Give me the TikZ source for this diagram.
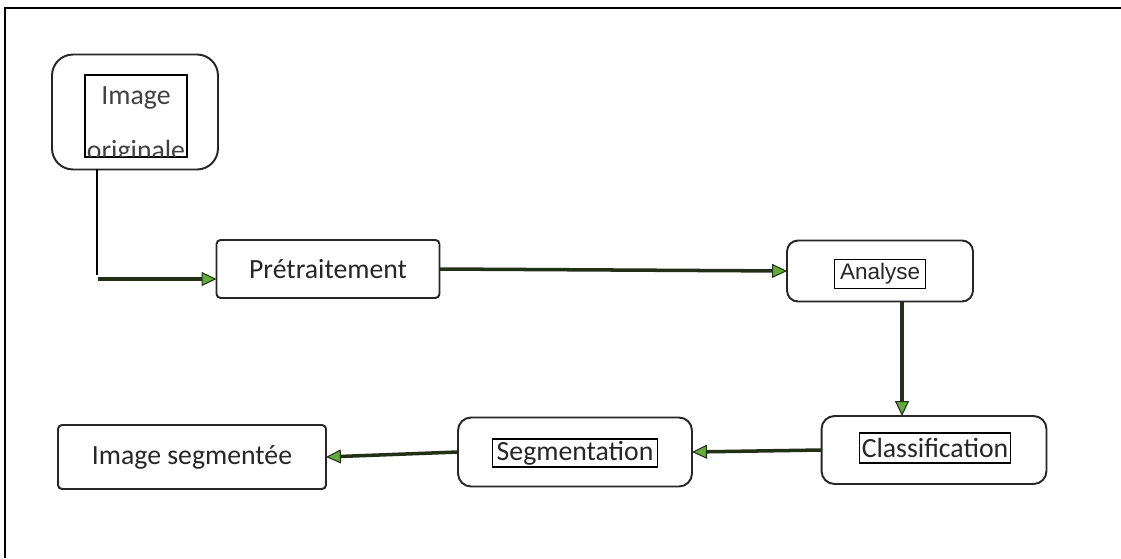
\documentclass[tikz,border=0pt]{standalone}
\usepackage{fontspec}
\setmainfont{Carlito}
\newfontfamily\arialfont{Liberation Sans}
\usetikzlibrary{arrows.meta,positioning}
\definecolor{arrline}{RGB}{34,48,24}
\definecolor{arrtip}{RGB}{98,172,58}
\begin{document}
\begin{tikzpicture}[x=0.02cm,y=-0.02cm,
box/.style = {draw=black!85, line width=1.1pt, fill=white, inner sep=0pt, outer sep=0pt},
tag/.style = {draw=black, line width=0.8pt, inner sep=0pt, outer sep=0pt},
flow/.style = {draw=arrline, line width=2pt,
        -{Triangle[length=0.3cm,width=0.28cm,fill=arrtip,line width=0.6pt]}},
every node/.append style = {text=black!85, font=\fontsize{15.8}{18}\selectfont}]

        \useasboundingbox (0,0) rectangle (1121,558);
        \draw[line width=1.7pt] (1121,8) -- (5,8) -- (5,558);

        \node [box, rounded corners=0.42cm, minimum width=3.32cm, minimum height=2.3cm] (Img_Orig) at (135,112) {};
        \node [tag, minimum width=2.04cm, minimum height=1.64cm] (Img_Orig_In) at (136,116) {};
        \node [anchor=base, text=black!75] (Img_Orig_T1) at (136,104) {Image};
        \begin{scope}
        \clip (Img_Orig_In.south west) rectangle (Img_Orig_In.north east);
        \node [anchor=base, text=black!75] (Img_Orig_T2) at (136,159) {originale};
        \end{scope}

        \node [box, rounded corners=0.08cm, minimum width=4.46cm, minimum height=1.16cm] (Pre_Trt) at (328,269) {Prétraitement};

        \node [box, rounded corners=0.22cm, minimum width=3.72cm, minimum height=1.22cm] (Ana) at (880,271) {};
        \node [tag, minimum width=1.82cm, minimum height=0.58cm, font=\arialfont\fontsize{12.8}{14}\selectfont] (Ana_In) at (880,274) {Analyse\hspace{0.15cm}};

        \node [box, rounded corners=0.26cm, minimum width=4.5cm, minimum height=1.36cm] (Cla) at (934,450) {};
        \node [tag, minimum width=3.02cm, minimum height=0.6cm] (Cla_In) at (935,448) {Classification};

        \node [box, rounded corners=0.26cm, minimum width=4.68cm, minimum height=1.38cm] (Seg) at (575,452) {};
        \node [tag, minimum width=3.3cm, minimum height=0.56cm] (Seg_In) at (575,453) {Segmentation};

        \node [box, rounded corners=0.08cm, minimum width=5.36cm, minimum height=1.28cm] (Img_Seg) at (192,457) {Image segmentée};

        \coordinate (Kink) at (97,275);
        \coordinate (Arr_Start) at (98,279);
        \draw[line width=0.8pt] (Img_Orig.south -| Kink) -- (Kink);
        \draw[flow] (Arr_Start) -- (Arr_Start -| Pre_Trt.west);
        \draw[flow] (Pre_Trt.east) -- (Ana.west);
        \draw[flow] ([xshift=0.44cm]Ana.south) -- ([xshift=0.44cm]Ana.south |- Cla.north);
        \draw[flow] (Cla.west) -- (Seg.east);
        \draw[flow] (Seg.west) -- (Img_Seg.east);

    \end{tikzpicture}
\end{document}
